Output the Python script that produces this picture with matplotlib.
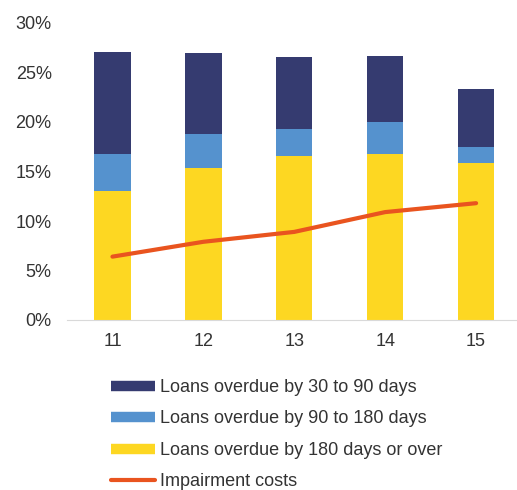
import numpy as np
import matplotlib.pyplot as plt
from matplotlib.lines import Line2D
from matplotlib.ticker import PercentFormatter

plt.rcParams['font.family'] = ['Liberation Sans', 'DejaVu Sans']

years = ['11', '12', '13', '14', '15']
over180 = [13.0, 15.4, 16.6, 16.8, 15.9]
d90_180 = [3.8, 3.4, 2.7, 3.2, 1.6]
d30_90 = [10.3, 8.2, 7.3, 6.7, 5.8]
impairment = [6.4, 7.9, 8.9, 10.9, 11.8]

c_navy = '#353B70'
c_blue = '#5592CE'
c_yellow = '#FDD722'
c_orange = '#E9541F'
c_text = '#333333'

fig = plt.figure(figsize=(5.17, 4.90), dpi=100)
ax = fig.add_axes([67/517, 170/490, 450/517, 297/490])

x = np.arange(len(years))
w = 0.4
b1 = np.array(over180)
b2 = b1 + np.array(d90_180)
ax.bar(x, over180, w, color=c_yellow)
ax.bar(x, d90_180, w, bottom=b1, color=c_blue)
ax.bar(x, d30_90, w, bottom=b2, color=c_navy)
ax.plot(x, impairment, color=c_orange, lw=3, solid_capstyle='round')

ax.set_xlim(-0.5, 4.45)
ax.set_ylim(0, 30)
ax.set_yticks(np.arange(0, 31, 5))
ax.yaxis.set_major_formatter(PercentFormatter(decimals=0))
ax.set_xticks(x)
ax.set_xticklabels(years)
for s in ['top', 'right', 'left']:
    ax.spines[s].set_visible(False)
ax.spines['bottom'].set_color('#D9D9D9')
ax.tick_params(axis='both', length=0, labelsize=13, colors=c_text)
ax.tick_params(axis='y', pad=11)
ax.tick_params(axis='x', pad=9)

handles = [
    Line2D([], [], color=c_navy, lw=7.5, solid_capstyle='butt'),
    Line2D([], [], color=c_blue, lw=7.5, solid_capstyle='butt'),
    Line2D([], [], color=c_yellow, lw=7.5, solid_capstyle='butt'),
    Line2D([], [], color=c_orange, lw=3, solid_capstyle='round'),
]
labels = ['Loans overdue by 30 to 90 days', 'Loans overdue by 90 to 180 days',
          'Loans overdue by 180 days or over', 'Impairment costs']
fig.legend(handles, labels, loc='upper left', bbox_to_anchor=(111/517, 1 - 379/490),
           frameon=False, fontsize=13, handlelength=2.45, handletextpad=0.28,
           labelspacing=0.8, borderpad=0, borderaxespad=0, labelcolor=c_text)

fig.savefig('out.png', dpi=100)
